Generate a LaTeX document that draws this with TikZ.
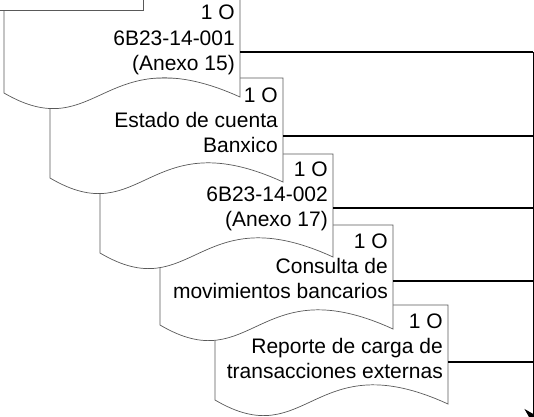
\documentclass[tikz,border=0pt]{standalone}
\usepackage{fontspec}
\setmainfont{Liberation Sans}
\usetikzlibrary{arrows.meta}
% #1 left x, #2 top y, #3 right x, #4 bottom-left y
\newcommand\docpath[4]{%
  \path[docshape] ({#1},{#4}) -- ({#1},{#2}) -- ({#3},{#2}) -- ({#3},{#4+4})
    .. controls ({#1+0.42*(#3-#1)},{#4-58}) and ({#1+0.4*(#3-#1)},{#4+55}) .. ({#1},{#4}) -- cycle;}
\begin{document}
\begin{tikzpicture}[x=1pt,y=-1pt,
  docshape/.style={draw=black!65, line width=0.7pt, fill=white},
  lbl/.style={anchor=base east, inner sep=0pt, font=\fontsize{21}{25}\selectfont},
  link/.style={line width=2pt, black},
  bus/.style={line width=0.9pt, black}]
\useasboundingbox (0,0) rectangle (534,416);
\clip (0,0) rectangle (534,416);

% document 5
\docpath{215}{305}{448}{400}
\node[lbl] (t5a) at (443,328) {1 O};
\node[lbl] (t5b) at (443,353) {Reporte de carga de};
\node[lbl] (t5c) at (443,378) {transacciones externas};
% document 4
\docpath{160}{225}{393}{325}
\node[lbl] (t4a) at (388,248) {1 O};
\node[lbl] (t4b) at (388,273) {Consulta de};
\node[lbl] (t4c) at (388,298) {movimientos bancarios};
% document 3
\docpath{100}{154}{333}{253}
\node[lbl] (t3a) at (328,176) {1 O};
\node[lbl] (t3b) at (328,201) {6B23-14-002};
\node[lbl] (t3c) at (328,226) {(Anexo 17)};
% document 2
\docpath{50}{78}{283}{178}
\node[lbl] (t2a) at (278,102) {1 O};
\node[lbl] (t2b) at (278,127) {Estado de cuenta};
\node[lbl] (t2c) at (278,152) {Banxico};
% document 1
\docpath{4}{-8}{240}{93}
\node[lbl] (t1a) at (235,19) {1 O};
\node[lbl] (t1b) at (235,45) {6B23-14-001};
\node[lbl] (t1c) at (235,70) {(Anexo 15)};

% previous shape (cut off at the top)
\path[docshape] (-10,-30) rectangle (143,10);

% connectors
\coordinate (c1) at (240,52);
\coordinate (c2) at (283,136);
\coordinate (c3) at (333,208);
\coordinate (c4) at (393,281);
\coordinate (c5) at (448,362);
\coordinate (b1) at (533,52);
\coordinate (b2) at (533,136);
\coordinate (b3) at (533,208);
\coordinate (b4) at (533,281);
\coordinate (b5) at (533,362);
\coordinate (bend) at (533,424);
\draw[link] (c1) -- (b1);
\draw[link] (c2) -- (b2);
\draw[link] (c3) -- (b3);
\draw[link] (c4) -- (b4);
\draw[link] (c5) -- (b5);
\draw[bus, -{Stealth[length=15pt,width=17pt]}] (b1) -- (bend);
\end{tikzpicture}
\end{document}
